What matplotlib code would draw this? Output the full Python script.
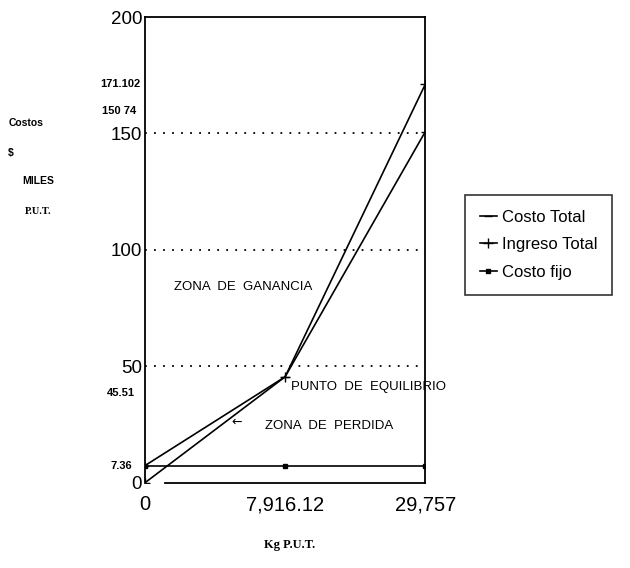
import matplotlib.pyplot as plt

plt.rcParams['font.family'] = ['Liberation Sans', 'DejaVu Sans']

# categories on x axis (equally spaced, as in the original)
x_labels = ['0', '7,916.12', '29,757']
costo_total = [7.36, 45.51, 150.74]
ingreso_total = [0, 45.51, 171.102]
costo_fijo = [7.36, 7.36, 7.36]

y_ticks = [0, 50, 100, 150, 200]
extra_labels = [7.36, 45.51, 150.74, 171.102]
extra_texts = ['7.36', '45.51', '150 74', '171.102']

fig = plt.figure(figsize=(6.3, 5.68), dpi=100)
ax = fig.add_axes([0.230, 0.150, 0.445, 0.820])

x = range(len(x_labels))
ax.plot(x, costo_total, color='black', lw=1.2, marker='_', ms=6, label='Costo Total')
ax.plot(x, ingreso_total, color='black', lw=1.2, marker='+', ms=7, label='Ingreso Total')
ax.plot(x, costo_fijo, color='black', lw=1.2, marker='s', ms=3, label='Costo fijo')

for v in [50, 100, 150]:
    ax.axhline(v, color='black', ls=(0, (1, 4)), lw=1.3)

ax.set_xlim(0, 2)
ax.set_ylim(0, 200)
ax.set_xticks(list(x))
ax.set_xticklabels(x_labels, fontsize=14.5)
ax.set_yticks(y_ticks)
ax.set_yticklabels([str(v) for v in y_ticks], fontsize=13.5)
ax.tick_params(axis='x', length=0, pad=9)
ax.tick_params(axis='y', length=0, pad=2)
for s in ax.spines.values():
    s.set_linewidth(1.3)
ax.spines['bottom'].set_bounds(0.14, 2)

# value labels, shifted off the tick labels as in the original
offsets = [0, -12, 15, 0]
right_px = [9, 7, 6, 3]
for v, t, dy, dx in zip(extra_labels, extra_texts, offsets, right_px):
    ax.annotate(t, (0, v), xytext=(-dx, dy), textcoords='offset points',
                ha='right', va='center', fontsize=8, fontweight='bold')

# zone labels
ax.text(0.21, 83, 'ZONA  DE  GANANCIA', fontsize=9.5)
ax.text(1.04, 41, 'PUNTO  DE  EQUILIBRIO', fontsize=9.5, va='center')
ax.text(0.86, 24.5, 'ZONA  DE  PERDIDA', fontsize=9.5, va='center')
ax.text(0.62, 26, '←', fontsize=9, va='center', family='DejaVu Sans')

# left axis title
fig.text(0.013, 1 - 123 / 568, 'Costos', fontsize=7.5, fontweight='bold', va='center')
fig.text(0.013, 1 - 153 / 568, '$', fontsize=7.5, fontweight='bold', va='center')
fig.text(0.036, 1 - 181 / 568, 'MILES', fontsize=7.5, fontweight='bold', va='center')
fig.text(0.040, 1 - 212 / 568, 'P.U.T.', fontsize=7.5, fontweight='bold', va='center',
         family='Liberation Serif')

fig.text(0.46, 1 - 545 / 568, 'Kg P.U.T.', fontsize=9, family='Liberation Serif',
         fontweight='bold', ha='center', va='center')

leg = fig.legend(loc='upper left', bbox_to_anchor=(0.738, 0.657), fontsize=12,
                 fancybox=False, edgecolor='black', handlelength=1.0,
                 handletextpad=0.3, labelspacing=0.75, borderpad=0.9,
                 borderaxespad=0)
leg.get_frame().set_linewidth(1.2)

fig.savefig('out.png', dpi=100)
